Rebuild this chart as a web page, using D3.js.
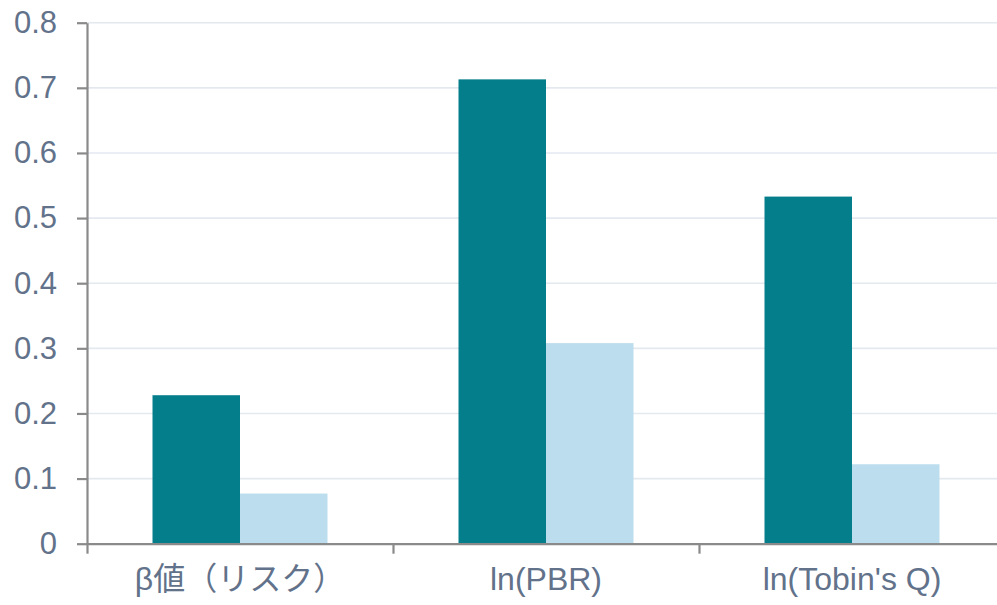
<!DOCTYPE html>
<html>
<head>
<meta charset="utf-8">
<script src="https://cdn.jsdelivr.net/npm/d3@7/dist/d3.min.js"></script>
<style>
  html, body { margin: 0; padding: 0; background: #ffffff; }
  svg { display: block; overflow: hidden; }
  .lbl { font-family: "Liberation Sans", Arial, "Noto Sans CJK JP", sans-serif; fill: #62728a; }
</style>
</head>
<body>
<svg id="chart" width="997" height="605"></svg>
<script>
// Categories and the two series of coefficients
const categories = ["β値（リスク）", "ln(PBR)", "ln(Tobin's Q)"];
const seriesNames = ["A", "B"];
const seriesA = [0.228, 0.713, 0.533];
const seriesB = [0.077, 0.308, 0.122];
const yTicks = [0, 0.1, 0.2, 0.3, 0.4, 0.5, 0.6, 0.7, 0.8];
const colors = ["#047e8b", "#bcddee"];

const W = 997, H = 605;
const left = 87, baseY = 543.7, topY = 22.7;
const step = 306;

const svg = d3.select("#chart");

const y = d3.scaleLinear().domain([0, 0.8]).range([baseY, topY]);
const x = d3.scaleBand().domain(categories).range([left, left + step * categories.length]).padding(0);
const xInner = d3.scaleBand().domain(seriesNames).range([65.5, step - 65.5]).padding(0);

// Horizontal gridlines
svg.append("g")
  .selectAll("line")
  .data(yTicks.filter(t => t > 0))
  .join("line")
  .attr("x1", left).attr("x2", W)
  .attr("y1", d => y(d)).attr("y2", d => y(d))
  .attr("stroke", "#e4e9f0")
  .attr("stroke-width", 1.6);

// Bars
const rows = categories.map((c, i) => ({ cat: c, vals: [seriesA[i], seriesB[i]] }));
const groups = svg.append("g")
  .selectAll("g")
  .data(rows)
  .join("g")
  .attr("transform", d => `translate(${x(d.cat)},0)`);

groups.selectAll("rect")
  .data(d => d.vals.map((v, k) => ({ key: seriesNames[k], v, k })))
  .join("rect")
  .attr("x", d => xInner(d.key))
  .attr("width", xInner.bandwidth())
  .attr("y", d => y(d.v))
  .attr("height", d => baseY - y(d.v))
  .attr("fill", d => colors[d.k]);

// Y axis
const yAxis = svg.append("g")
  .attr("transform", `translate(${left},0)`)
  .call(d3.axisLeft(y).tickValues(yTicks).tickSize(10).tickSizeOuter(0).tickPadding(20)
    .tickFormat(d => d === 0 ? "0" : d3.format(".1f")(d)));
yAxis.select(".domain").attr("stroke", "#8a8a8a").attr("stroke-width", 2.2);
yAxis.selectAll(".tick line").attr("stroke", "#8a8a8a").attr("stroke-width", 2.2);
yAxis.selectAll(".tick text").attr("class", "lbl").style("font-size", "31px");

// X axis line with boundary ticks between categories
const xb = d3.scaleLinear().domain([0, categories.length]).range([left, left + step * categories.length]);
const xAxis = svg.append("g")
  .attr("transform", `translate(0,${baseY})`)
  .call(d3.axisBottom(xb).tickValues(d3.range(categories.length + 1)).tickSize(10).tickSizeOuter(0).tickFormat(""));
xAxis.select(".domain").attr("stroke", "#8a8a8a").attr("stroke-width", 2.2);
xAxis.selectAll(".tick line").attr("stroke", "#8a8a8a").attr("stroke-width", 2.2);

// Category labels
const xLab = svg.append("g")
  .attr("transform", `translate(0,${baseY})`)
  .call(d3.axisBottom(x).tickSize(0).tickPadding(24));
xLab.select(".domain").remove();
xLab.selectAll(".tick text").attr("class", "lbl").style("font-size", "32px");
</script>
</body>
</html>
